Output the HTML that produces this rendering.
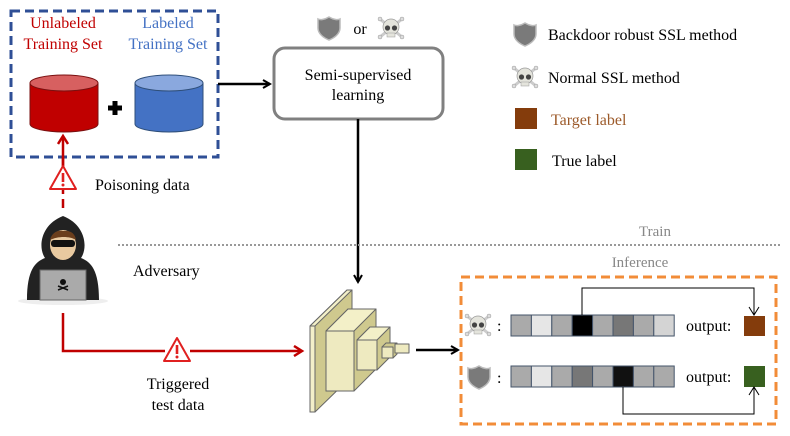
<!DOCTYPE html>
<html><head><meta charset="utf-8"><style>
html,body{margin:0;padding:0;background:#fff}
svg{display:block}
text{font-family:"Liberation Serif","Times New Roman",serif}
</style></head><body>
<svg width="790" height="436" viewBox="0 0 790 436" xmlns="http://www.w3.org/2000/svg" font-family="Liberation Serif, serif">
<defs>
<marker id="ab" markerWidth="10" markerHeight="10" refX="8" refY="5" orient="auto" markerUnits="userSpaceOnUse"><path d="M1,1 L8,5 L1,9" fill="none" stroke="#000" stroke-width="2"/></marker>
<marker id="ar" markerWidth="12" markerHeight="12" refX="9" refY="6" orient="auto" markerUnits="userSpaceOnUse"><path d="M1,1 L9,6 L1,11" fill="none" stroke="#c00000" stroke-width="2.5"/></marker>
<marker id="at" markerWidth="12" markerHeight="12" refX="10" refY="6" orient="auto" markerUnits="userSpaceOnUse"><path d="M2,1 L10,6 L2,11" fill="none" stroke="#000" stroke-width="1"/></marker>
<g id="shield"><path d="M0,-11 C5,-8 9,-8 11,-9 L11,0 C11,6 5,10 0,12 C-5,10 -11,6 -11,0 L-11,-9 C-9,-8 -5,-8 0,-11Z" fill="#7a7a7a" stroke="#bbb" stroke-width="1.5"/></g>
<g id="skull"><line x1="-11" y1="-9" x2="11" y2="9" stroke="#ccc" stroke-width="3"/><line x1="11" y1="-9" x2="-11" y2="9" stroke="#ccc" stroke-width="3"/><circle cx="-11" cy="-9" r="2" fill="#ddd" stroke="#999" stroke-width=".5"/><circle cx="11" cy="-9" r="2" fill="#ddd" stroke="#999" stroke-width=".5"/><circle cx="-11" cy="9" r="2" fill="#ddd" stroke="#999" stroke-width=".5"/><circle cx="11" cy="9" r="2" fill="#ddd" stroke="#999" stroke-width=".5"/><ellipse cx="0" cy="-1" rx="8" ry="8" fill="#e4e4dc" stroke="#999" stroke-width=".7"/><rect x="-4" y="5" width="8" height="4" fill="#e4e4dc" stroke="#999" stroke-width=".5"/><circle cx="-3.5" cy="0" r="2.6" fill="#444"/><circle cx="3.5" cy="0" r="2.6" fill="#444"/></g>
<g id="warn"><path d="M0,-13 L13,10 L-13,10Z" fill="#fff" stroke="#e02020" stroke-width="2" stroke-linejoin="round"/><rect x="-1.3" y="-6" width="2.6" height="9" fill="#e02020"/><circle cx="0" cy="6" r="1.5" fill="#e02020"/></g>
</defs>

<rect x="11" y="11" width="207" height="146" fill="none" stroke="#2f4f96" stroke-width="3" stroke-dasharray="9,5"/>
<text x="63" y="28" font-size="16" fill="#c00000" text-anchor="middle">Unlabeled</text>
<text x="63" y="49" font-size="16" fill="#c00000" text-anchor="middle">Training Set</text>
<text x="168" y="28" font-size="16" fill="#4472c4" text-anchor="middle">Labeled</text>
<text x="168" y="49" font-size="16" fill="#4472c4" text-anchor="middle">Training Set</text>
<path d="M30,83 L30,124 A34,8 0 0 0 98,124 L98,83" fill="#c00000" stroke="#7a1010" stroke-width="1"/>
<ellipse cx="64" cy="83" rx="34" ry="8" fill="#d76060" stroke="#7a1010" stroke-width="1"/>
<path d="M135,83 L135,124 A34,8 0 0 0 203,124 L203,83" fill="#4472c4" stroke="#2f4f7a" stroke-width="1"/>
<ellipse cx="169" cy="83" rx="34" ry="8" fill="#8aa8de" stroke="#2f4f7a" stroke-width="1"/>
<path d="M115,101 v14 M108,108 h14" stroke="#000" stroke-width="5"/>
<line x1="218" y1="84" x2="270" y2="84" stroke="#000" stroke-width="2.5" marker-end="url(#ab)"/>

<rect x="274" y="48" width="169" height="71" rx="11" fill="#fff" stroke="#808080" stroke-width="3"/>
<text x="358" y="80" font-size="16" text-anchor="middle">Semi-supervised</text>
<text x="358" y="100" font-size="16" text-anchor="middle">learning</text>
<use href="#shield" x="329" y="28"/>
<text x="360" y="34" font-size="16" text-anchor="middle">or</text>
<use href="#skull" x="391" y="28"/>
<line x1="358" y1="119" x2="358" y2="282" stroke="#000" stroke-width="2.5" marker-end="url(#ab)"/>

<use href="#shield" x="525" y="34"/>
<text x="548" y="40" font-size="16">Backdoor robust SSL method</text>
<use href="#skull" x="525" y="77"/>
<text x="548" y="83" font-size="16">Normal SSL method</text>
<rect x="515" y="108" width="22" height="21" fill="#843c0c"/>
<text x="551" y="125" font-size="16" fill="#9c5a2a">Target label</text>
<rect x="515" y="149" width="22" height="21" fill="#38601f"/>
<text x="552" y="166" font-size="16">True label</text>

<line x1="118" y1="245" x2="782" y2="245" stroke="#999" stroke-width="2" stroke-dasharray="2,2"/>
<text x="655" y="236" font-size="15" fill="#888" text-anchor="middle">Train</text>
<text x="640" y="267" font-size="15" fill="#888" text-anchor="middle">Inference</text>

<line x1="63" y1="157" x2="63" y2="210" stroke="#c00000" stroke-width="2.5" stroke-dasharray="9,5"/>
<line x1="63" y1="170" x2="63" y2="136" stroke="#c00000" stroke-width="2.5" marker-end="url(#ar)"/>
<use href="#warn" x="63" y="179"/>
<text x="95" y="190" font-size="16">Poisoning data</text>
<ellipse cx="63" cy="301" rx="45" ry="4" fill="#eee"/>
<path d="M27,300 C27,270 35,262 45,258 C38,248 40,225 63,216 C86,225 88,248 81,258 C91,262 99,270 99,300Z" fill="#222"/>
<ellipse cx="63" cy="245" rx="13" ry="15" fill="#e8c9a0"/>
<path d="M50,240 C52,232 58,230 63,231 C70,230 75,233 76,240 C70,236 58,236 50,240Z" fill="#6b3e1c"/>
<rect x="51" y="240" width="24" height="7" rx="3" fill="#111"/>
<rect x="40" y="270" width="46" height="30" fill="#aaa" stroke="#666" stroke-width="1"/>
<circle cx="63" cy="282" r="3" fill="#111"/><path d="M58,290 L68,286 M58,286 L68,290" stroke="#111" stroke-width="1.5"/>
<text x="133" y="276" font-size="16">Adversary</text>
<path d="M63,313 L63,351 L165,351" fill="none" stroke="#c00000" stroke-width="2.5"/>
<line x1="190" y1="351" x2="302" y2="351" stroke="#c00000" stroke-width="2.5" marker-end="url(#ar)"/>
<use href="#warn" x="177" y="351"/>
<text x="178" y="389" font-size="16" text-anchor="middle">Triggered</text>
<text x="178" y="410" font-size="16" text-anchor="middle">test data</text>

<g stroke="#666" stroke-width="1" stroke-linejoin="round">
<path d="M310,326 L347,290 L352,290 L352,376 L315,412 L310,412Z" fill="#cfc98e"/>
<path d="M310,326 L347,290 L352,290 L315,326Z" fill="#f3f0c8"/>
<rect x="310" y="326" width="5" height="86" fill="#f3efc9"/>
<path d="M326,331 L348,309 L376,309 L376,369 L354,391 L326,391Z" fill="#cfc98e"/>
<path d="M326,331 L348,309 L376,309 L354,331Z" fill="#f3f0c8"/>
<rect x="326" y="331" width="28" height="60" fill="#eeeac0"/>
<path d="M357,340 L370,327 L390,327 L390,357 L377,370 L357,370Z" fill="#cfc98e"/>
<path d="M357,340 L370,327 L390,327 L377,340Z" fill="#f3f0c8"/>
<rect x="357" y="340" width="20" height="30" fill="#eeeac0"/>
<path d="M382,347 L386,343 L397,343 L397,354 L393,358 L382,358Z" fill="#cfc98e"/>
<rect x="382" y="347" width="11" height="11" fill="#eeeac0"/>
<rect x="395" y="344" width="14" height="9" fill="#eeeac0"/>
</g>
<line x1="416" y1="350" x2="458" y2="350" stroke="#000" stroke-width="2.5" marker-end="url(#ab)"/>

<rect x="461" y="277" width="315" height="147" fill="none" stroke="#f28c38" stroke-width="3" stroke-dasharray="9,5"/>
<use href="#skull" x="478" y="325"/>
<text x="497" y="331" font-size="16">:</text>
<use href="#shield" x="479" y="377"/>
<text x="497" y="383" font-size="16">:</text>
<g stroke="#44546a" stroke-width="1">
<rect x="511" y="315" width="20.4" height="21" fill="#aaa"/>
<rect x="531.4" y="315" width="20.4" height="21" fill="#e6e6e6"/>
<rect x="551.8" y="315" width="20.4" height="21" fill="#aaa"/>
<rect x="572.2" y="315" width="20.4" height="21" fill="#000"/>
<rect x="592.6" y="315" width="20.4" height="21" fill="#aaa"/>
<rect x="613" y="315" width="20.4" height="21" fill="#777"/>
<rect x="633.4" y="315" width="20.4" height="21" fill="#aaa"/>
<rect x="653.8" y="315" width="20.4" height="21" fill="#d4d4d4"/>
<rect x="511" y="366" width="20.4" height="21" fill="#aaa"/>
<rect x="531.4" y="366" width="20.4" height="21" fill="#e6e6e6"/>
<rect x="551.8" y="366" width="20.4" height="21" fill="#aaa"/>
<rect x="572.2" y="366" width="20.4" height="21" fill="#777"/>
<rect x="592.6" y="366" width="20.4" height="21" fill="#aaa"/>
<rect x="613" y="366" width="20.4" height="21" fill="#111"/>
<rect x="633.4" y="366" width="20.4" height="21" fill="#aaa"/>
<rect x="653.8" y="366" width="20.4" height="21" fill="#aaa"/>
</g>
<text x="686" y="331" font-size="16">output:</text>
<text x="686" y="382" font-size="16">output:</text>
<rect x="744" y="316" width="21" height="20" fill="#843c0c"/>
<rect x="744" y="366" width="21" height="21" fill="#38601f"/>
<path d="M582,315 L582,288 L754,288 L754,315" fill="none" stroke="#000" stroke-width="1" marker-end="url(#at)"/>
<path d="M623,387 L623,414 L754,414 L754,387" fill="none" stroke="#000" stroke-width="1" marker-end="url(#at)"/>
</svg>
</body></html>
